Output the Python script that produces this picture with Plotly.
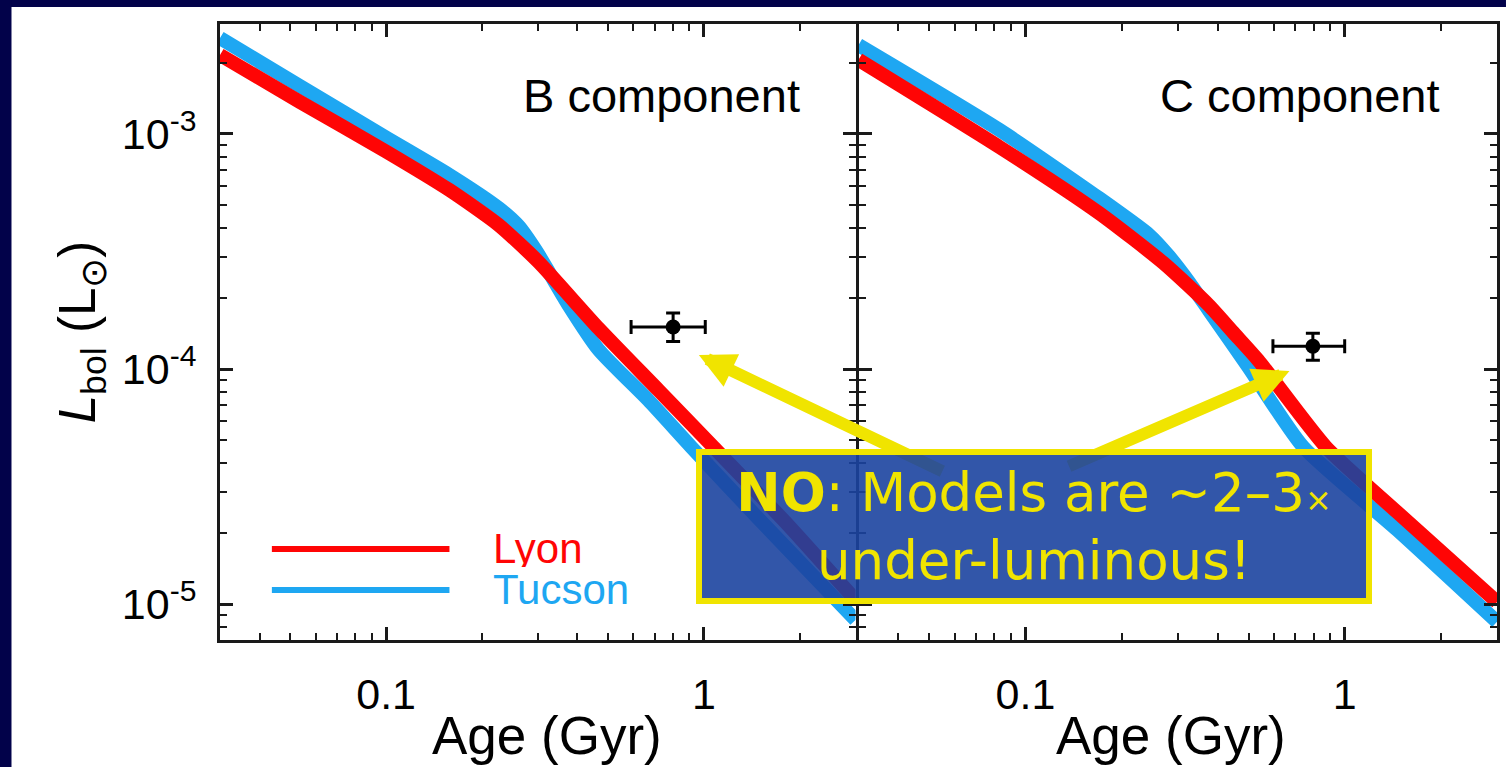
import math
import plotly.graph_objects as go

# Evolutionary model tracks (age in Gyr, bolometric luminosity in L_sun)
age_b_lyon = [0.030, 0.0535, 0.0993, 0.158, 0.226, 0.302, 0.466, 0.718, 1.07, 1.84, 3.0]
lum_b_lyon = [2.17e-3, 1.37e-3, 8.47e-4, 5.78e-4, 4.10e-4, 2.85e-4, 1.49e-4, 8.15e-5, 4.66e-5, 2.17e-5, 1.04e-5]

age_b_tucson = [0.030, 0.0535, 0.0993, 0.158, 0.226, 0.261, 0.298, 0.325, 0.375, 0.466, 0.668, 0.912, 1.48, 3.0]
lum_b_tucson = [2.56e-3, 1.60e-3, 9.71e-4, 6.70e-4, 4.84e-4, 4.06e-4, 3.15e-4, 2.59e-4, 1.87e-4, 1.21e-4, 7.38e-5, 4.66e-5, 2.32e-5, 8.55e-6]

age_c_lyon = [0.030, 0.083, 0.170, 0.271, 0.375, 0.45, 0.536, 0.873, 1.46, 3.0]
lum_c_lyon = [2.07e-3, 8.8e-4, 4.61e-4, 2.82e-4, 1.87e-4, 1.42e-4, 1.09e-4, 4.66e-5, 2.46e-5, 1.02e-5]

age_c_tucson = [0.030, 0.083, 0.170, 0.244, 0.281, 0.325, 0.375, 0.499, 0.741, 1.46, 3.0]
lum_c_tucson = [2.39e-3, 1.04e-3, 5.34e-4, 3.72e-4, 3.03e-4, 2.35e-4, 1.78e-4, 1.02e-4, 4.66e-5, 2.07e-5, 8.4e-6]

# Measured components: age with range, luminosity with range
obs_age = [0.80, 0.795]
obs_age_lo = [0.59, 0.596]
obs_age_hi = [1.01, 1.00]
obs_lum = [1.51e-4, 1.25e-4]
obs_lum_lo = [1.31e-4, 1.09e-4]
obs_lum_hi = [1.73e-4, 1.42e-4]

panel_labels = ["B component", "C component"]
legend_names = ["Lyon", "Tucson"]
x_title = "Age (Gyr)"
y_tickvals = [1e-5, 1e-4, 1e-3]
y_ticktext = ["10<sup>-5</sup>", "10<sup>-4</sup>", "10<sup>-3</sup>"]
x_tickvals = [0.1, 1]
x_ticktext = ["0.1", "1"]

RED = "#ff0505"
BLUE = "#1ea7f2"
NAVY = "#02024a"
YELLOW = "#f0e400"
FONT = "Liberation Sans, Arial, sans-serif"

W, H = 1509, 767
ML, MR, MT, MB = 220, 9, 24, 127
pw = W - ML - MR
ph = H - MT - MB
# the two panels share one frame line between them
dom1 = [0, 637 / pw]
dom2 = [640 / pw, 1]

fig = go.Figure()

tracks = [
    (age_b_tucson, lum_b_tucson, BLUE, "x", "y"),
    (age_b_lyon, lum_b_lyon, RED, "x", "y"),
    (age_c_tucson, lum_c_tucson, BLUE, "x2", "y2"),
    (age_c_lyon, lum_c_lyon, RED, "x2", "y2"),
]
for ages, lums, color, xa, ya in tracks:
    fig.add_trace(go.Scatter(
        x=ages, y=lums, mode="lines", xaxis=xa, yaxis=ya,
        line=dict(color=color, width=14, shape="spline", smoothing=0.6),
        showlegend=False, hoverinfo="skip"))

for i, (xa, ya) in enumerate([("x", "y"), ("x2", "y2")]):
    fig.add_trace(go.Scatter(
        x=[obs_age[i]], y=[obs_lum[i]], mode="markers", xaxis=xa, yaxis=ya,
        marker=dict(color="black", size=15),
        error_x=dict(type="data", symmetric=False,
                     array=[obs_age_hi[i] - obs_age[i]],
                     arrayminus=[obs_age[i] - obs_age_lo[i]],
                     color="black", thickness=3, width=7),
        error_y=dict(type="data", symmetric=False,
                     array=[obs_lum_hi[i] - obs_lum[i]],
                     arrayminus=[obs_lum[i] - obs_lum_lo[i]],
                     color="black", thickness=3, width=7),
        showlegend=False, hoverinfo="skip"))

x_minor = [v * m for v in (0.01, 0.1, 1) for m in range(2, 10) if 0.03 <= v * m <= 3]
y_minor = [v * m for v in (1e-6, 1e-5, 1e-4, 1e-3) for m in range(2, 10) if 7e-6 <= v * m <= 3e-3]

xr = [math.log10(0.03), math.log10(3.0)]
yr = [-5.153, -2.532]

axis_common = dict(
    type="log", showline=True, linecolor="#1a1a1a", linewidth=3, mirror="ticks",
    ticks="inside", ticklen=13, tickwidth=2.5, tickcolor="#1a1a1a",
    showgrid=False, zeroline=False,
    minor=dict(ticks="inside", ticklen=7, tickwidth=2, tickcolor="#1a1a1a",
               showgrid=False),
)

xaxis_common = dict(axis_common, range=xr, tickvals=x_tickvals, ticktext=x_ticktext,
                    tickfont=dict(family=FONT, size=43, color="black"),
                    ticklabelstandoff=14)
xaxis_common["minor"] = dict(axis_common["minor"], tickvals=x_minor)

fig.update_layout(
    width=W, height=H, autosize=False,
    margin=dict(l=ML, r=MR, t=MT, b=MB, pad=0),
    paper_bgcolor="white", plot_bgcolor="white",
    showlegend=False,
    xaxis=dict(xaxis_common, domain=dom1, anchor="y"),
    xaxis2=dict(xaxis_common, domain=dom2, anchor="y2"),
    yaxis=dict(axis_common, range=yr, tickvals=y_tickvals, ticktext=y_ticktext,
               tickfont=dict(family=FONT, size=43, color="black"),
               ticklabelstandoff=12,
               minor=dict(axis_common["minor"], tickvals=y_minor),
               title=dict(text="<i>L</i><sub>bol</sub> (L<sub>⊙</sub>)",
                          font=dict(family=FONT, size=51, color="black"), standoff=10),
               anchor="x"),
    yaxis2=dict(axis_common, range=yr, tickvals=y_tickvals, showticklabels=False,
                minor=dict(axis_common["minor"], tickvals=y_minor),
                anchor="x2", matches="y"),
)


def px(xp):
    return (xp - ML) / pw


def py(yp):
    return (H - MB - yp) / ph


shapes = [
    # slide frame
    dict(type="rect", xref="paper", yref="paper", x0=px(0), x1=px(W), y0=py(7), y1=py(-2),
         fillcolor=NAVY, line=dict(width=0), layer="above"),
    dict(type="rect", xref="paper", yref="paper", x0=px(-2), x1=px(11), y0=py(H + 2), y1=py(-2),
         fillcolor=NAVY, line=dict(width=0), layer="above"),
    # legend lines
    dict(type="line", xref="paper", yref="paper", x0=px(272), x1=px(450), y0=py(549), y1=py(549),
         line=dict(color=RED, width=6)),
    dict(type="line", xref="paper", yref="paper", x0=px(272), x1=px(450), y0=py(590), y1=py(590),
         line=dict(color=BLUE, width=6)),
]
fig.update_layout(shapes=shapes)

annotations = [
    dict(text=legend_names[0], xref="paper", yref="paper", x=px(492), y=py(548),
         xanchor="left", yanchor="middle", showarrow=False, height=38,
         font=dict(family=FONT, size=42, color=RED)),
    dict(text=legend_names[1], xref="paper", yref="paper", x=px(492), y=py(589),
         xanchor="left", yanchor="middle", showarrow=False, height=38,
         font=dict(family=FONT, size=42, color=BLUE)),
    dict(text=panel_labels[0], xref="paper", yref="paper", x=px(663), y=py(95),
         xanchor="center", yanchor="middle", showarrow=False,
         font=dict(family=FONT, size=47, color="black")),
    dict(text=panel_labels[1], xref="paper", yref="paper", x=px(1303), y=py(95),
         xanchor="center", yanchor="middle", showarrow=False,
         font=dict(family=FONT, size=47, color="black")),
    # axis titles under each panel
    dict(text=x_title, xref="paper", yref="paper", x=px(548), y=py(735),
         xanchor="center", yanchor="middle", showarrow=False,
         font=dict(family=FONT, size=53, color="black")),
    dict(text=x_title, xref="paper", yref="paper", x=px(1173), y=py(735),
         xanchor="center", yanchor="middle", showarrow=False,
         font=dict(family=FONT, size=53, color="black")),
    # arrows pointing at the measured components
    dict(text="", xref="paper", yref="paper", x=px(700), y=py(355), axref="pixel", ayref="pixel",
         ax=245, ay=117, showarrow=True, arrowhead=2, arrowsize=0.6, arrowwidth=12,
         arrowcolor=YELLOW, standoff=0),
    dict(text="", xref="paper", yref="paper", x=px(1292), y=py(371), axref="pixel", ayref="pixel",
         ax=-222, ay=96, showarrow=True, arrowhead=2, arrowsize=0.6, arrowwidth=12,
         arrowcolor=YELLOW, standoff=0),
    # callout box
    dict(text="<b>NO</b>: Models are ~2–3<span style='font-size:32px'>×</span><br>under-luminous!",
         xref="paper", yref="paper", x=px(1035.5), y=py(526.5),
         xanchor="center", yanchor="middle", showarrow=False, align="center",
         width=664, height=143, borderpad=0, borderwidth=6,
         bordercolor=YELLOW, bgcolor="rgba(28,68,160,0.9)",
         font=dict(family="DejaVu Sans, sans-serif", size=53, color=YELLOW)),
]
fig.update_layout(annotations=annotations)

fig.write_html("out.html")
